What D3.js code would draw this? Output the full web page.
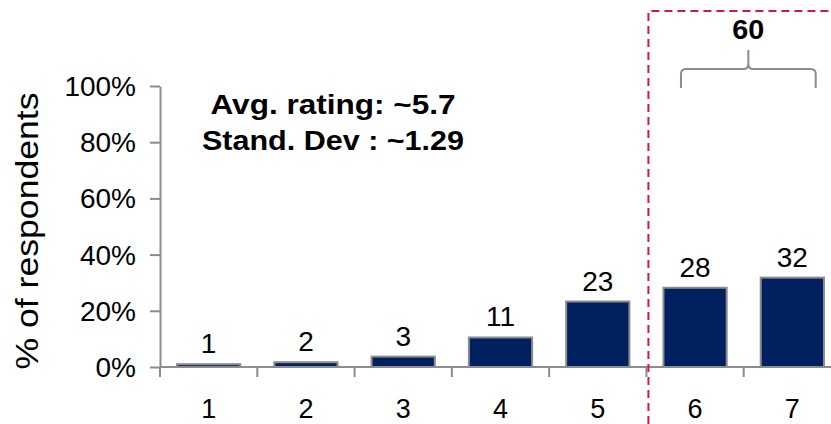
<!DOCTYPE html>
<html><head><meta charset="utf-8">
<script src="https://cdn.jsdelivr.net/npm/d3@7"></script>
<style>html,body{margin:0;padding:0;background:#fff;} svg{display:block;font-family:"Liberation Sans",Arial,sans-serif;}</style>
</head><body>
<script>
const categories = ["1","2","3","4","5","6","7"];
const values = [1.0, 1.7, 3.7, 10.5, 23.3, 28.2, 31.8];
const valueLabels = ["1","2","3","11","23","28","32"];
const yTicks = [0, 20, 40, 60, 80, 100];
const yTitle = "% of respondents";
const notes = ["Avg. rating: ~5.7", "Stand. Dev : ~1.29"];
const topTotal = "60";
const highlighted = ["6","7"];

const W = 831, H = 424;
const svg = d3.select("body").append("svg").attr("width", W).attr("height", H);

const x = d3.scaleBand().domain(categories).range([160, 841]).paddingInner(0.35).paddingOuter(0.175);
const y = d3.scaleLinear().domain([0, 100]).range([367, 86]);
const step = x.step();
const gray = "#8c8c8c";

// y axis
const yAxis = svg.append("g").attr("transform", "translate(160,0)")
  .call(d3.axisLeft(y).tickValues(yTicks).tickFormat(d => d + "%").tickSize(10).tickSizeOuter(0).tickPadding(14));
yAxis.select(".domain").attr("stroke", gray).attr("stroke-width", 2);
yAxis.selectAll(".tick line").attr("stroke", gray).attr("stroke-width", 2);
yAxis.selectAll(".tick text").attr("font-size", 28).attr("fill", "#000").attr("dy", "0.34em")
  .attr("font-family", "Liberation Sans, Arial, sans-serif");

// x axis line
svg.append("line").attr("x1", 160).attr("x2", W).attr("y1", y(0)).attr("y2", y(0))
  .attr("stroke", gray).attr("stroke-width", 2);
// x ticks at band boundaries
svg.selectAll(".xt").data(categories).enter().append("line")
  .attr("x1", d => x(d) - step * 0.175).attr("x2", d => x(d) - step * 0.175)
  .attr("y1", y(0)).attr("y2", y(0) + 10).attr("stroke", gray).attr("stroke-width", 2);
// x labels
svg.selectAll(".xl").data(categories).enter().append("text")
  .attr("x", d => x(d) + x.bandwidth() / 2).attr("y", 418)
  .attr("text-anchor", "middle").attr("font-size", 27).text(d => d);

// bars
svg.selectAll(".bar").data(categories).enter().append("rect")
  .attr("x", d => x(d)).attr("width", x.bandwidth())
  .attr("y", (d, i) => y(values[i])).attr("height", (d, i) => y(0) - y(values[i]))
  .attr("fill", "#002060").attr("stroke", gray).attr("stroke-width", 2);

// value labels
svg.selectAll(".vl").data(categories).enter().append("text")
  .attr("x", d => x(d) + x.bandwidth() / 2).attr("y", (d, i) => y(values[i]) - 11)
  .attr("text-anchor", "middle").attr("font-size", 28).text((d, i) => valueLabels[i]);

// y title
svg.append("text").attr("transform", "translate(38,231) rotate(-90)")
  .attr("text-anchor", "middle").attr("font-size", 31)
  .attr("textLength", 277).attr("lengthAdjust", "spacingAndGlyphs").text(yTitle);

// notes
notes.forEach((t, i) => {
  svg.append("text").attr("x", 333).attr("y", 114 + i * 36)
    .attr("text-anchor", "middle").attr("font-size", 28).attr("font-weight", "bold")
    .attr("textLength", i === 0 ? 245 : 262).attr("lengthAdjust", "spacingAndGlyphs").text(t);
});

// red dashed box
const bx = x(highlighted[0]) - step * 0.175 + 2;
svg.append("path").attr("d", `M${bx},${H} L${bx},11 L${W},11`)
  .attr("fill", "none").attr("stroke", "#d7163f").attr("stroke-width", 2).attr("stroke-dasharray", "8,5");

// brace
const bl = x(highlighted[0]) + step * 0.355 - step * 0.175;
const br = x(highlighted[1]) + step * 0.74 - step * 0.175;
const bm = (bl + br) / 2;
const by = 69, r = 5;
svg.append("path")
  .attr("d", `M${bl},88 L${bl},${by + r} Q${bl},${by} ${bl + r},${by} L${bm - r},${by} Q${bm},${by} ${bm},${by - r} L${bm},50 M${bm},${by - r} Q${bm},${by} ${bm + r},${by} L${br - r},${by} Q${br},${by} ${br},${by + r} L${br},88`)
  .attr("fill", "none").attr("stroke", gray).attr("stroke-width", 2);
svg.append("text").attr("x", bm).attr("y", 39).attr("text-anchor", "middle")
  .attr("font-size", 27).attr("font-weight", "bold")
  .attr("textLength", 32).attr("lengthAdjust", "spacingAndGlyphs").text(topTotal);
</script>
</body></html>
